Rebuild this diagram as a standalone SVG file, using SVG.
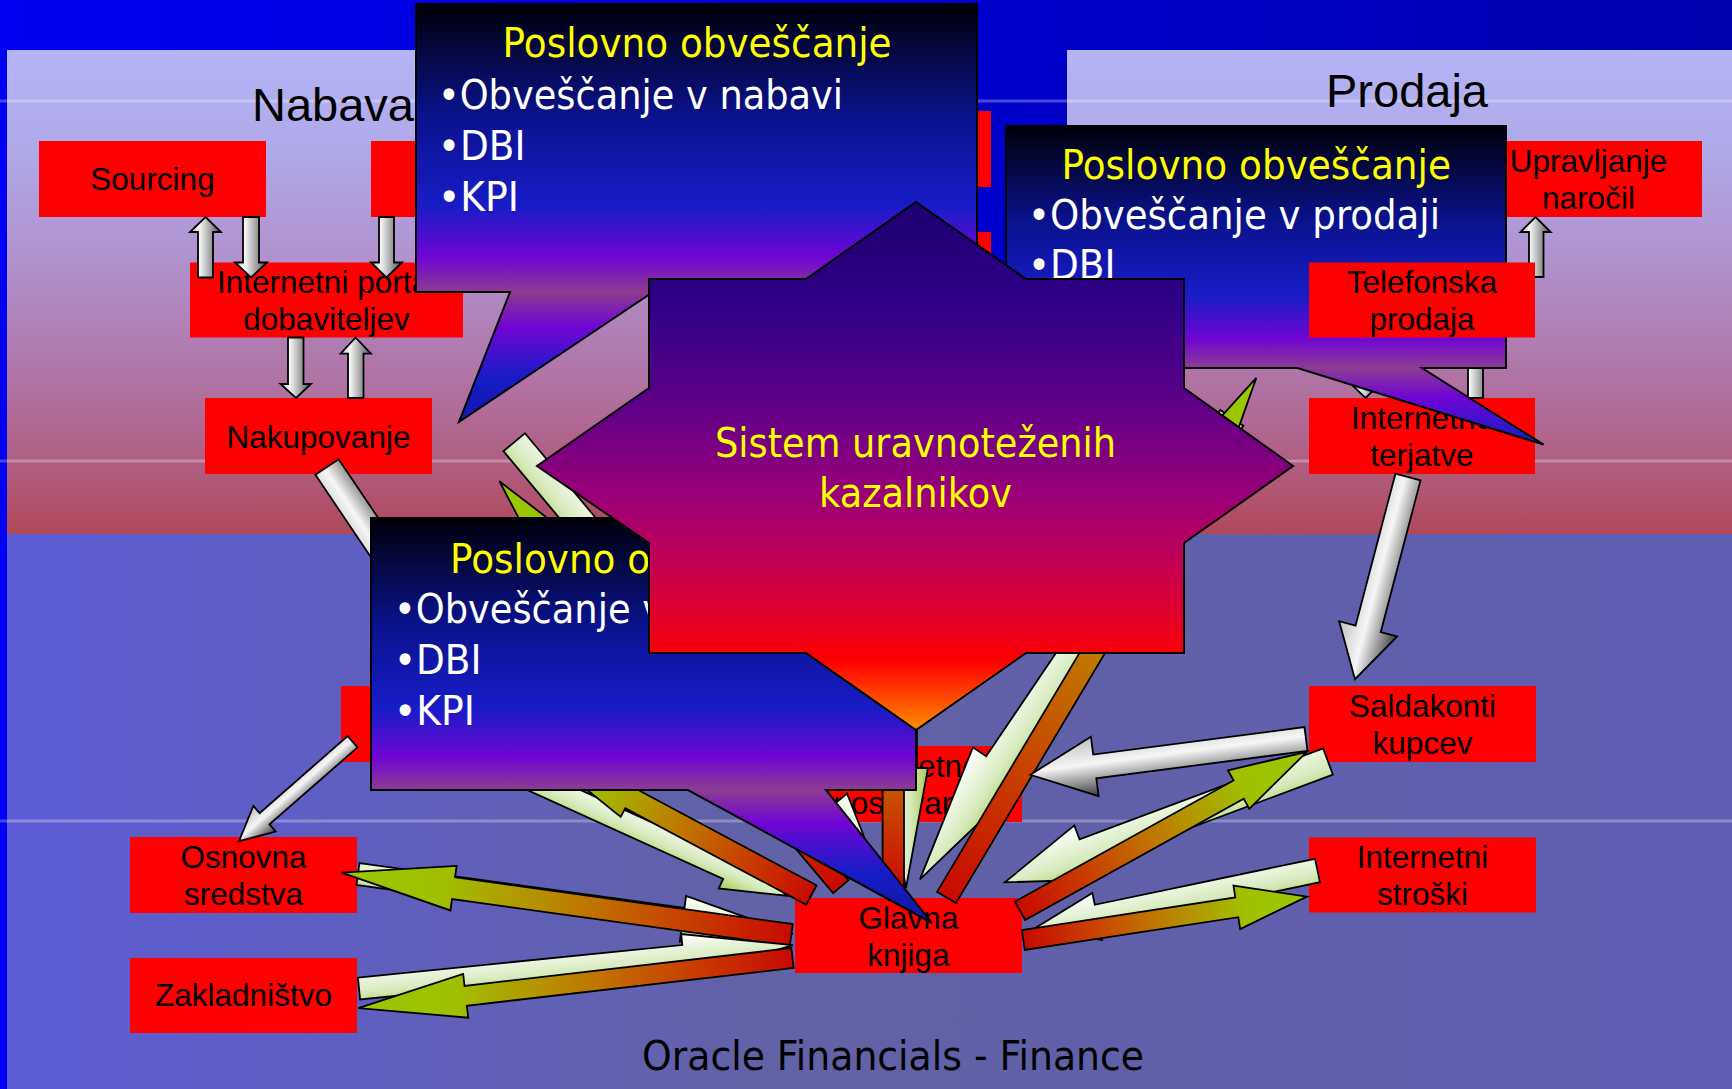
<svg xmlns="http://www.w3.org/2000/svg" width="1732" height="1089" viewBox="0 0 1732 1089">
<defs>
<style>
.box{fill:#ff0000}
.bt{font-family:"Liberation Sans",Arial,sans-serif;font-size:31.5px;fill:#000000;text-anchor:middle}
.hd{font-family:"Liberation Sans",Arial,sans-serif;font-size:47px;fill:#000000}
.tt{font-family:"DejaVu Sans",Verdana,sans-serif;font-size:40px}
.ttl{fill:#ffff00}
.bul{fill:#ffffff}
.ol{stroke:#000000;stroke-width:1.8;stroke-linejoin:miter}
.sh{stroke:#000000;stroke-width:2;stroke-linejoin:miter}
.gv{fill:url(#gv)}
.gd{fill:url(#gd)}
.og{fill:url(#og)}
.wa{fill:url(#wA)}
.wb{fill:url(#wB)}
.tline{fill:#ffffff;opacity:0.28}
</style>
<linearGradient id="bgBlue" x1="0" y1="0" x2="1" y2="0">
<stop offset="0" stop-color="#0000f2"/><stop offset="1" stop-color="#0000b0"/>
</linearGradient>
<linearGradient id="upper" gradientUnits="userSpaceOnUse" x1="0" y1="50" x2="0" y2="534">
<stop offset="0" stop-color="#b4b4f6"/><stop offset="0.19" stop-color="#b0aaea"/><stop offset="0.41" stop-color="#b094d0"/><stop offset="0.63" stop-color="#b07aae"/><stop offset="0.855" stop-color="#b05e82"/><stop offset="1" stop-color="#b0485a"/>
</linearGradient>
<linearGradient id="lower" x1="0" y1="0" x2="1" y2="0">
<stop offset="0" stop-color="#5c5cd6"/><stop offset="0.45" stop-color="#6262a6"/><stop offset="0.65" stop-color="#6060aa"/><stop offset="1" stop-color="#5e5eb4"/>
</linearGradient>
<linearGradient id="bg1" gradientUnits="userSpaceOnUse" x1="0" y1="4" x2="0" y2="292" spreadMethod="reflect">
<stop offset="0" stop-color="#000008"/><stop offset="0.39" stop-color="#0a128c"/><stop offset="0.7" stop-color="#181cc7"/><stop offset="0.88" stop-color="#7005d4"/><stop offset="1" stop-color="#8c3d91"/>
</linearGradient>
<linearGradient id="bg2" gradientUnits="userSpaceOnUse" x1="0" y1="126" x2="0" y2="368" spreadMethod="reflect">
<stop offset="0" stop-color="#000008"/><stop offset="0.39" stop-color="#0a128c"/><stop offset="0.7" stop-color="#181cc7"/><stop offset="0.88" stop-color="#7005d4"/><stop offset="1" stop-color="#8c3d91"/>
</linearGradient>
<linearGradient id="bg3" gradientUnits="userSpaceOnUse" x1="0" y1="518" x2="0" y2="790" spreadMethod="reflect">
<stop offset="0" stop-color="#000008"/><stop offset="0.39" stop-color="#0a128c"/><stop offset="0.7" stop-color="#181cc7"/><stop offset="0.88" stop-color="#7005d4"/><stop offset="1" stop-color="#8c3d91"/>
</linearGradient>
<linearGradient id="starG" gradientUnits="userSpaceOnUse" x1="0" y1="202" x2="0" y2="730">
<stop offset="0" stop-color="#1c0070"/><stop offset="0.2" stop-color="#300088"/><stop offset="0.4" stop-color="#640088"/><stop offset="0.55" stop-color="#980078"/><stop offset="0.65" stop-color="#b80060"/><stop offset="0.78" stop-color="#e0002c"/><stop offset="0.87" stop-color="#ff0000"/><stop offset="0.94" stop-color="#ff4a00"/><stop offset="1" stop-color="#ff9000"/>
</linearGradient>
<linearGradient id="gv" x1="0" y1="0" x2="1" y2="0">
<stop offset="0" stop-color="#b8b8b8"/><stop offset="0.3" stop-color="#f8f8f8"/><stop offset="1" stop-color="#505050"/>
</linearGradient>
<linearGradient id="gd" x1="0" y1="0" x2="0" y2="1">
<stop offset="0" stop-color="#3c3c3c"/><stop offset="0.55" stop-color="#f6f6f6"/><stop offset="1" stop-color="#c0c0c0"/>
</linearGradient>
<linearGradient id="og" x1="0" y1="0" x2="1" y2="0">
<stop offset="0" stop-color="#c80a00"/><stop offset="0.25" stop-color="#c84200"/><stop offset="0.45" stop-color="#c07400"/><stop offset="0.62" stop-color="#b09c00"/><stop offset="0.78" stop-color="#a0c000"/><stop offset="1" stop-color="#98c800"/>
</linearGradient>
<linearGradient id="wA" x1="0" y1="0" x2="0" y2="1">
<stop offset="0" stop-color="#a8cc50"/><stop offset="0.4" stop-color="#d6eabc"/><stop offset="1" stop-color="#ffffff"/>
</linearGradient>
<linearGradient id="wB" x1="0" y1="0" x2="0" y2="1">
<stop offset="0" stop-color="#ffffff"/><stop offset="0.6" stop-color="#d6eabc"/><stop offset="1" stop-color="#a8cc50"/>
</linearGradient>
</defs>

<g id="background">
<rect x="0" y="0" width="1732" height="1089" fill="url(#bgBlue)"/>
<rect x="7" y="50" width="970" height="484" fill="url(#upper)"/>
<rect x="1067" y="50" width="665" height="484" fill="url(#upper)"/>
<rect x="7" y="534" width="1725" height="555" fill="url(#lower)"/>
<rect class="tline" x="0" y="99.5" width="1732" height="3"/>
<rect class="tline" x="0" y="459.5" width="1732" height="3"/>
<rect class="tline" x="0" y="819.5" width="1732" height="3"/>
</g>

<g id="section-labels">
<text class="hd" x="252" y="121">Nabava</text>
<text class="hd" x="1326" y="107">Prodaja</text>
<text class="tt" x="642" y="1070" fill="#000000" textLength="502" lengthAdjust="spacingAndGlyphs">Oracle Financials - Finance</text>
</g>

<g id="node-sourcing"><rect class="box" x="39" y="141" width="227" height="76"/><text class="bt" x="152.5" y="189.5">Sourcing</text></g>
<g id="node-hidden-top"><rect class="box" x="371" y="141" width="227" height="76"/></g>
<g id="node-hidden-right-1"><rect class="box" x="764" y="111" width="227" height="76"/></g>
<g id="node-hidden-right-2"><rect class="box" x="764" y="232" width="227" height="76"/></g>
<g id="node-portal"><rect class="box" x="190" y="262.5" width="273" height="75"/><text class="bt" x="326.5" y="293">Internetni portal</text><text class="bt" x="326.5" y="330">dobaviteljev</text></g>
<g id="node-nakupovanje"><rect class="box" x="205" y="398" width="227" height="76"/><text class="bt" x="318.5" y="448">Nakupovanje</text></g>
<g id="node-upravljanje"><rect class="box" x="1475" y="141" width="227" height="76"/><text class="bt" x="1588.5" y="171.5">Upravljanje</text><text class="bt" x="1588.5" y="208.5">naročil</text></g>
<g id="node-terjatve"><rect class="box" x="1309" y="398" width="226" height="76"/><text class="bt" x="1422" y="428.5">Internetne</text><text class="bt" x="1422" y="465.5">terjatve</text></g>
<g id="node-saldakonti"><rect class="box" x="1309" y="686" width="227" height="76"/><text class="bt" x="1422.5" y="716.5">Saldakonti</text><text class="bt" x="1422.5" y="753.5">kupcev</text></g>
<g id="node-stroski"><rect class="box" x="1309" y="837.5" width="227" height="75"/><text class="bt" x="1422.5" y="868">Internetni</text><text class="bt" x="1422.5" y="905">stroški</text></g>
<g id="node-osnovna"><rect class="box" x="130" y="837" width="227" height="76"/><text class="bt" x="243.5" y="867.5">Osnovna</text><text class="bt" x="243.5" y="904.5">sredstva</text></g>
<g id="node-zakladnistvo"><rect class="box" x="130" y="958" width="227" height="75"/><text class="bt" x="243.5" y="1006">Zakladništvo</text></g>
<g id="node-hidden-left"><rect class="box" x="341" y="686" width="227" height="76"/></g>
<g id="node-poslovanje"><rect class="box" x="795" y="746" width="227" height="76"/><text class="bt" x="908.5" y="776.5">Internetno</text><text class="bt" x="908.5" y="813.5">poslovanje</text></g>
<g id="node-glavna"><rect class="box" x="795" y="898" width="227" height="75"/><text class="bt" x="908.5" y="928.5">Glavna</text><text class="bt" x="908.5" y="965.5">knjiga</text></g>

<g id="connectors">
<polygon class="gv ol" points="205.5,217 221,232 213,232 213,277.5 198,277.5 198,232 190,232"/>
<polygon class="gv ol" points="243,217 259,217 259,262.5 267,262.5 251,277.5 235,262.5 243,262.5"/>
<polygon class="gv ol" points="379,217 394,217 394,262.5 402,262.5 386.5,277.5 371,262.5 379,262.5"/>
<polygon class="gv ol" points="288,337.5 303.5,337.5 303.5,384 311,384 296,398 280.5,384 288,384"/>
<polygon class="gv ol" points="355.6,337.5 371,353.6 363.5,353.6 363.5,398 348,398 348,353.6 340.6,353.6"/>
<polygon class="gv ol" points="1535.5,217 1550.7,232 1543.5,232 1543.5,277 1529,277 1529,232 1520.5,232"/>
<polygon class="gv ol" points="1475.5,337.5 1491,353 1483,353 1483,398 1468,398 1468,353 1460,353"/>
<polygon class="gv ol" points="1358,337.5 1373,337.5 1373,383 1381,383 1365.5,398 1350,383 1358,383"/>
<path class="gd ol" transform="translate(1408 477) rotate(104.7)" d="M0,-13H157V-30L209,0L157,30V13H0Z"/>
<path class="gd ol" transform="translate(327 467) rotate(56)" d="M0,-14H175V-30L230,0L175,30V14H0Z"/>
<path class="gd ol" transform="translate(352.6 741.7) rotate(138.8)" d="M0,-7.5H117V-17L151,0L117,17V7.5H0Z"/>
<path class="wb ol" transform="translate(514.2 442.2) rotate(50.1)" d="M0,-14H483V-30L573,0L483,30V14H0Z"/>
<path class="og ol" transform="translate(840.8 886.7) rotate(229.9)" d="M0,-10H430V-22L530,0L430,22V10H0Z"/>
<path class="wb ol" transform="translate(470 752) rotate(24.4)" d="M0,-11H283V-21.5L348,0L283,21.5V11H0Z"/>
<path class="og ol" transform="translate(811.4 895) rotate(208.1)" d="M0,-11H205V-21L315,0L205,21V11H0Z"/>
<path class="wb ol" transform="translate(358 874) rotate(7.85)" d="M0,-11H328V-23L439,0L328,23V11H0Z"/>
<path class="og ol" transform="translate(791.3 935) rotate(187.9)" d="M0,-11H341V-22.5L454,0L341,22.5V11H0Z"/>
<path class="wb ol" transform="translate(359 988.5) rotate(-5.72)" d="M0,-11H326V-22L436,0L326,22V11H0Z"/>
<path class="og ol" transform="translate(792.5 958) rotate(173.4)" d="M0,-10H329V-22L437,0L329,22V10H0Z"/>
<path class="wa ol" transform="translate(906 640) rotate(90)" d="M0,-11H128V-22L248,0L128,22V11H0Z"/>
<path class="og ol" transform="translate(893.3 888) rotate(-90)" d="M0,-10.7H220V-22L300,0L220,22V10.7H0Z"/>
<path class="wa ol" transform="translate(1231.8 417.8) rotate(124.05)" d="M0,-14H418V-30L557,0L418,30V14H0Z"/>
<path class="og ol" transform="translate(946.5 897.5) rotate(-59.2)" d="M0,-11H495V-22L605,0L495,22V11H0Z"/>
<path class="wa ol" transform="translate(1328 761.5) rotate(159.5)" d="M0,-14H260V-29L345,0L260,29V14H0Z"/>
<path class="og ol" transform="translate(1020 910.8) rotate(-29)" d="M0,-10.5H250V-22L328,0L250,22V10.5H0Z"/>
<path class="gd ol" transform="translate(1306 739) rotate(172.6)" d="M0,-12H213V-30L278,0L213,30V12H0Z"/>
<path class="wa ol" transform="translate(1317.5 870.5) rotate(168.2)" d="M0,-12H225V-24L292,0L225,24V12H0Z"/>
<path class="og ol" transform="translate(1023.3 940) rotate(-8.7)" d="M0,-10H216V-22L287,0L216,22V10H0Z"/>
</g>

<g id="bubble-nabava">
<polygon class="sh" fill="url(#bg1)" points="416,4 977,4 977,292 653,292 459,422 510,292 416,292"/>
<text class="tt ttl" x="502.6" y="57" textLength="389" lengthAdjust="spacingAndGlyphs">Poslovno obveščanje</text>
<text class="tt bul" x="438" y="109" textLength="405" lengthAdjust="spacingAndGlyphs">•Obveščanje v nabavi</text>
<text class="tt bul" x="438" y="160" textLength="87.5" lengthAdjust="spacingAndGlyphs">•DBI</text>
<text class="tt bul" x="438" y="211" textLength="81" lengthAdjust="spacingAndGlyphs">•KPI</text>
</g>

<g id="bubble-prodaja">
<polygon class="sh" fill="url(#bg2)" points="1006,126 1506,126 1506,368 1422,368 1543.5,444.6 1297.5,368 1006,368"/>
<text class="tt ttl" x="1061.5" y="178.6" textLength="389.5" lengthAdjust="spacingAndGlyphs">Poslovno obveščanje</text>
<text class="tt bul" x="1028" y="228.6" textLength="412" lengthAdjust="spacingAndGlyphs">•Obveščanje v prodaji</text>
<text class="tt bul" x="1028" y="278.6" textLength="87.5" lengthAdjust="spacingAndGlyphs">•DBI</text>
</g>

<g id="node-telefonska"><rect class="box" x="1309" y="262.5" width="226" height="75"/><text class="bt" x="1422" y="293">Telefonska</text><text class="bt" x="1422" y="330">prodaja</text></g>

<g id="bubble-finance">
<polygon class="sh" fill="url(#bg3)" points="371,518 916,518 916,790 826,790 932,923 688,790 371,790"/>
<text class="tt ttl" x="450" y="572.6" textLength="389" lengthAdjust="spacingAndGlyphs">Poslovno obveščanje</text>
<text class="tt bul" x="394" y="623.4" textLength="270" lengthAdjust="spacingAndGlyphs">•Obveščanje v</text>
<text class="tt bul" x="394" y="674" textLength="87.5" lengthAdjust="spacingAndGlyphs">•DBI</text>
<text class="tt bul" x="394" y="725" textLength="81" lengthAdjust="spacingAndGlyphs">•KPI</text>
</g>

<g id="star-bsc">
<polygon class="sh" fill="url(#starG)" points="916,202 1026,279 1184,279 1184,388 1293,466 1184,543 1184,653 1026,653 916,730 806,653 649,653 649,543 537,466 649,388 649,279 806,279"/>
<text class="tt ttl" x="715" y="457" textLength="401" lengthAdjust="spacingAndGlyphs">Sistem uravnoteženih</text>
<text class="tt ttl" x="819" y="507" textLength="193" lengthAdjust="spacingAndGlyphs">kazalnikov</text>
</g>
</svg>
